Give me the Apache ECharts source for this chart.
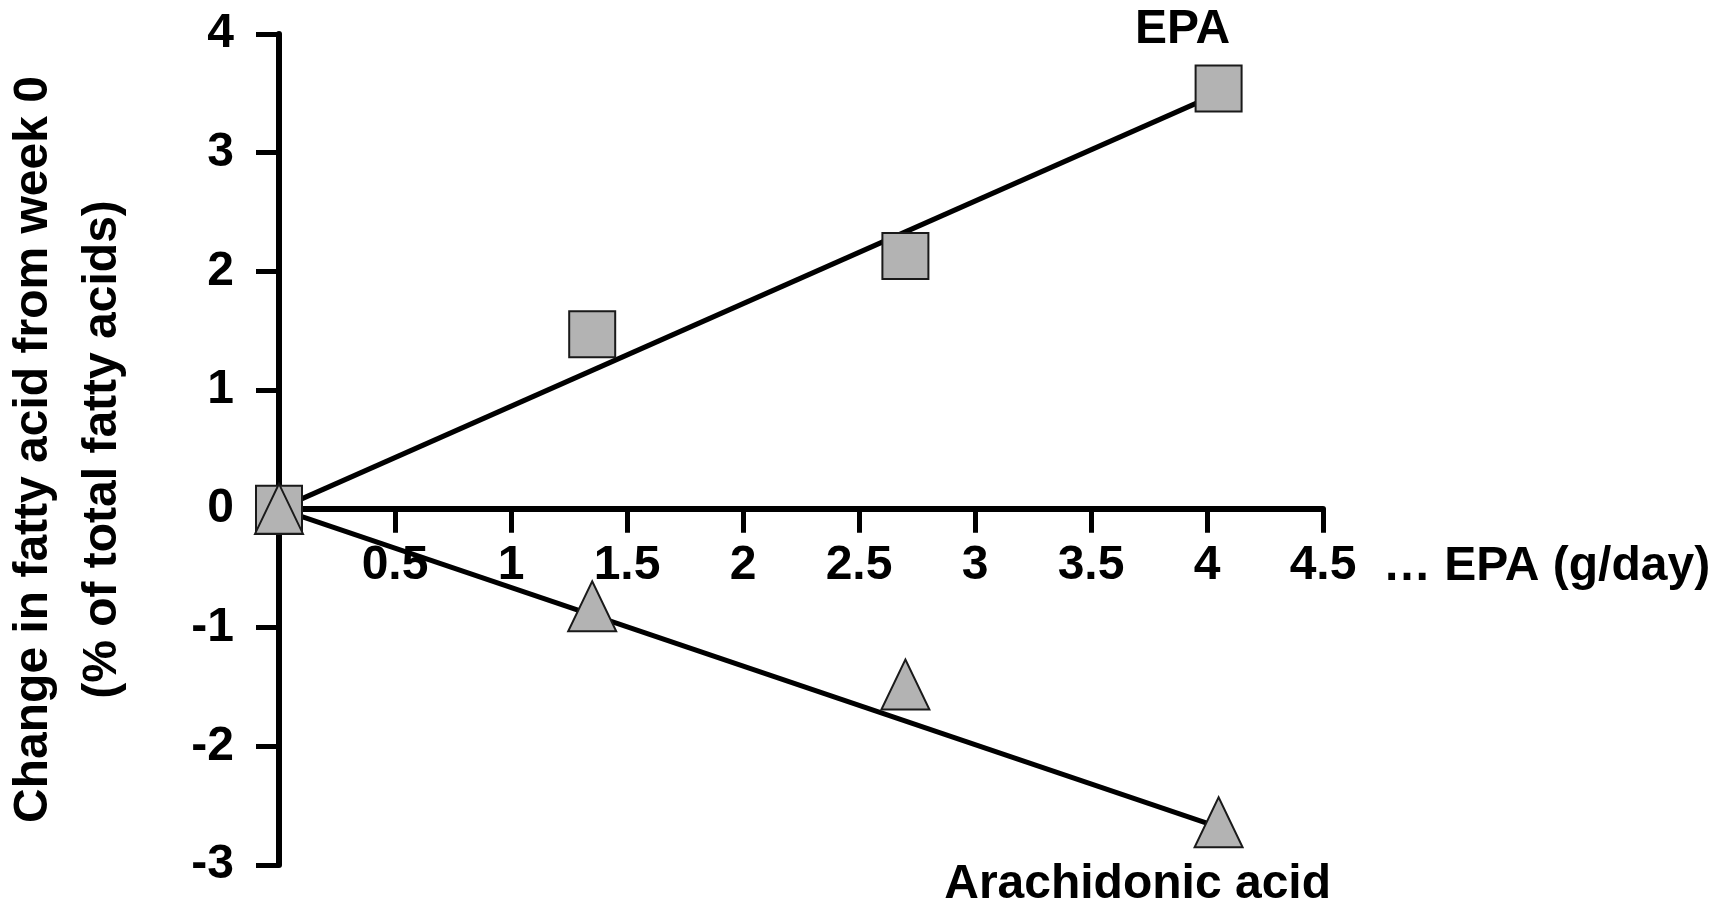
<!DOCTYPE html>
<html><head><meta charset="utf-8">
<script src="https://cdn.jsdelivr.net/npm/echarts@6/dist/echarts.min.js"></script>
<style>html,body{margin:0;padding:0;background:#fff}#c{width:1730px;height:915px}</style>
</head><body><div id="c"></div>
<script>
// Data
const doseEPA = [0, 1.35, 2.7, 4.05];          // EPA dose (g/day)
const epaChange = [0, 1.47, 2.13, 3.54];        // change in EPA (% of total FA)
const aaChange = [0, -0.82, -1.48, -2.64];      // change in arachidonic acid
const epaFitX = [0, 4.05], epaFitY = [0, 3.5];  // regression line EPA
const aaFitX = [0, 4.05], aaFitY = [0, -2.68];  // regression line AA
const xTickLabels = ['0.5', '1', '1.5', '2', '2.5', '3', '3.5', '4', '4.5'];
const yTickLabels = ['-3', '-2', '-1', '0', '1', '2', '3', '4'];
const seriesNames = ['EPA', 'Arachidonic acid'];

const FONT = 'Liberation Sans, Arial, Helvetica, sans-serif';
const zip = (a, b) => a.map((v, i) => [v, b[i]]);
const markerStyle = { color: '#b3b3b3', borderColor: '#1a1a1a', borderWidth: 2, opacity: 1 };

const W = 1730, H = 915;
const G = { left: 279, right: 407, top: 34, bottom: 50 };
const Y_MIN = -3, Y_MAX = 4;
const gridH = H - G.top - G.bottom;
const xAxisOffset = -gridH * (0 - Y_MIN) / (Y_MAX - Y_MIN);

const chart = echarts.init(document.getElementById('c'));
chart.setOption({
  animation: false,
  backgroundColor: '#fff',
  grid: Object.assign({ containLabel: false, outerBoundsMode: 'none' }, G),
  xAxis: {
    type: 'value', min: 0, max: 4.5, interval: 0.5, position: 'bottom', offset: xAxisOffset,
    name: '\u2026 EPA (g/day)', nameLocation: 'end', nameGap: 60,
    nameTextStyle: { fontFamily: FONT, fontWeight: 'bold', fontSize: 48, color: '#000',
      align: 'left', verticalAlign: 'top', padding: [34, 0, 0, 0] },
    axisLine: { onZero: false, lineStyle: { color: '#000', width: 6 } },
    axisTick: { show: true, length: 24, lineStyle: { color: '#000', width: 5 } },
    axisLabel: { margin: 33, fontFamily: FONT, fontWeight: 'bold', fontSize: 48, color: '#000',
      formatter: v => { const s = String(v); return xTickLabels.includes(s) ? s : ''; } },
    splitLine: { show: false }
  },
  yAxis: {
    type: 'value', min: Y_MIN, max: Y_MAX, interval: 1,
    name: 'Change in fatty acid from week 0\n(% of total fatty acids)',
    nameLocation: 'middle', nameRotate: 90, nameGap: 142,
    nameTextStyle: { fontFamily: FONT, fontWeight: 'bold', fontSize: 48, color: '#000', lineHeight: 69 },
    axisLine: { onZero: false, lineStyle: { color: '#000', width: 6 } },
    axisTick: { show: true, length: 23, lineStyle: { color: '#000', width: 5 } },
    axisLabel: { margin: 45, fontFamily: FONT, fontWeight: 'bold', fontSize: 48, color: '#000',
      formatter: v => { const s = String(v); return yTickLabels.includes(s) ? s : ''; } },
    splitLine: { show: false }
  },
  series: [
    { type: 'line', data: zip(epaFitX, epaFitY), symbol: 'none', z: 2,
      lineStyle: { color: '#000', width: 5, opacity: 1 }, silent: true },
    { type: 'line', data: zip(aaFitX, aaFitY), symbol: 'none', z: 2,
      lineStyle: { color: '#000', width: 5, opacity: 1 }, silent: true },
    { name: seriesNames[0], type: 'scatter', symbol: 'rect', symbolSize: 46, z: 3,
      itemStyle: markerStyle,
      data: zip(doseEPA, epaChange).map((p, i, arr) => i === arr.length - 1 ? {
        value: p, label: { show: true, position: 'top', distance: 11, offset: [-36, 0],
          formatter: seriesNames[0], fontFamily: FONT, fontWeight: 'bold', fontSize: 48,
          color: '#000', opacity: 1, textBorderWidth: 0 } } : p) },
    { name: seriesNames[1], type: 'scatter', symbol: 'triangle', symbolSize: [48, 50], z: 4,
      itemStyle: markerStyle,
      data: zip(doseEPA, aaChange).map((p, i, arr) => i === arr.length - 1 ? {
        value: p, label: { show: true, position: 'bottom', distance: 12, offset: [-81, 0],
          formatter: seriesNames[1], fontFamily: FONT, fontWeight: 'bold', fontSize: 48,
          color: '#000', opacity: 1, textBorderWidth: 0 } } : p) }
  ]
});
</script>
</body></html>
